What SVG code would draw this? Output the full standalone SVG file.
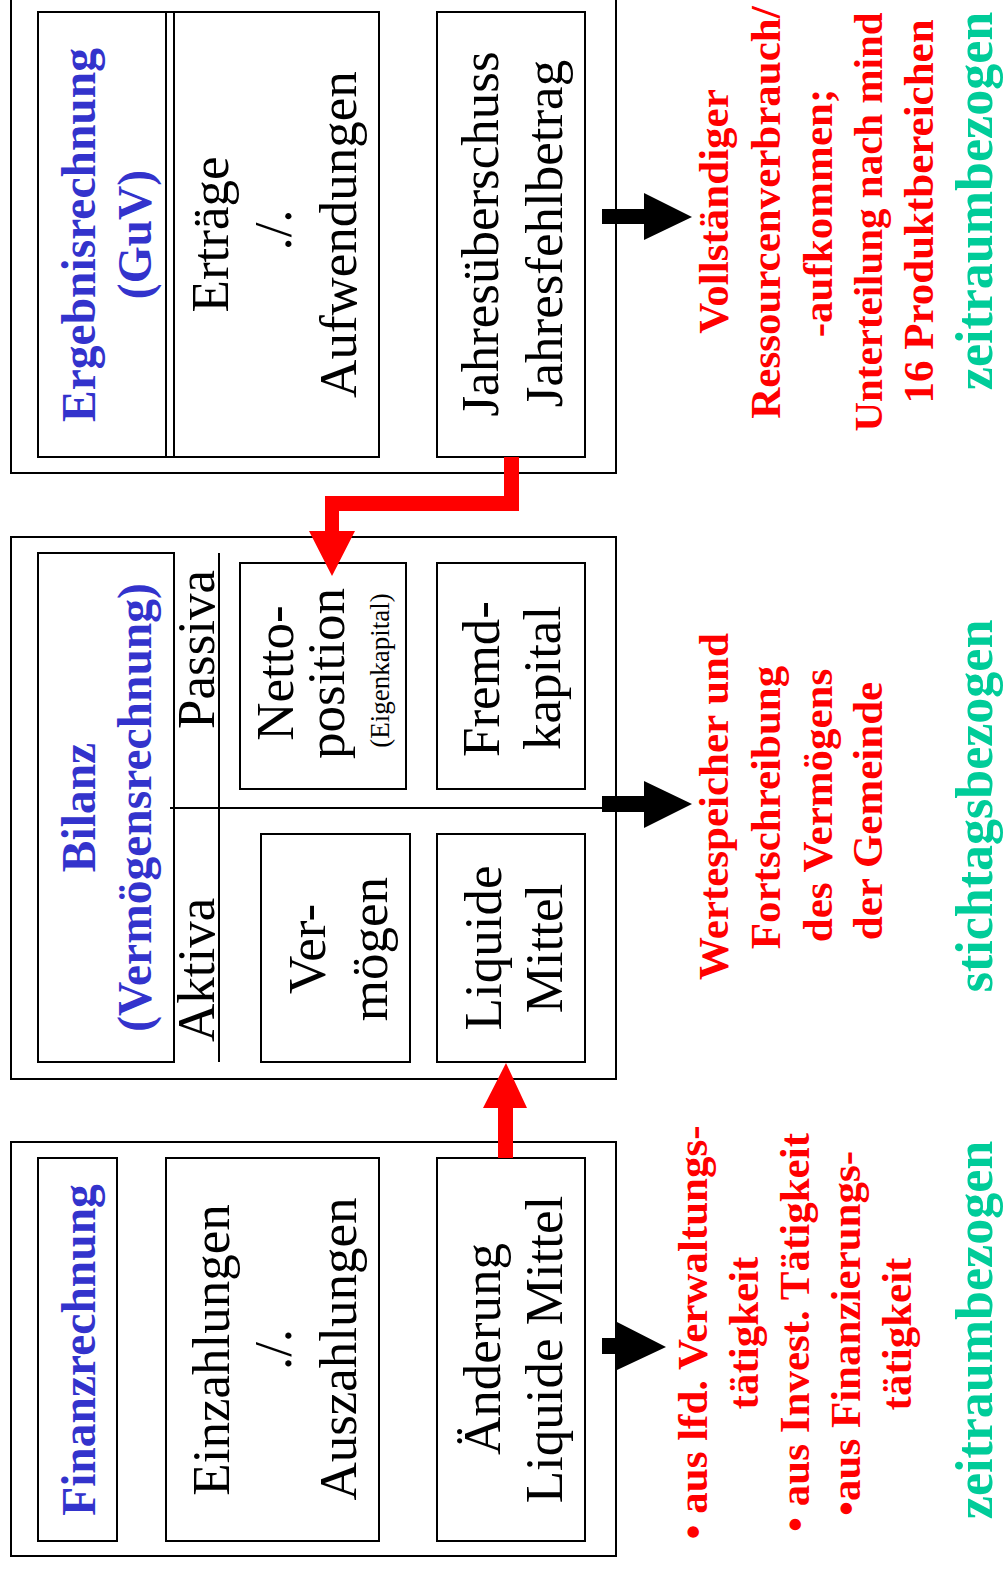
<svg xmlns="http://www.w3.org/2000/svg" width="1004" height="1569" viewBox="0 0 1004 1569">
  <style>
    .frame { fill: none; stroke: #000; stroke-width: 2; }
    .box { fill: none; stroke: #000; stroke-width: 2; }
    .rule { stroke: #000; stroke-width: 2; }
    text { font-family: "Liberation Serif", "Times New Roman", serif; text-anchor: middle; }
    .t { font-size: 53px; fill: #000; }
    .sm { font-size: 27px; fill: #000; }
    .ti { font-size: 47.5px; font-weight: bold; fill: #3333cc; }
    .r { font-size: 43px; font-weight: bold; fill: #ff0000; }
    .g { font-size: 52px; font-weight: bold; fill: #00cc99; }
    .flow { fill: #ff0000; }
    .out { fill: #000; }
  </style>
  <rect width="1004" height="1569" fill="#fff"/>

  <!-- Ergebnisrechnung (income statement) -->
  <g id="ergebnisrechnung">
    <rect class="frame" x="11" y="-5" width="605" height="478"/>
    <rect class="box" x="38" y="12" width="341" height="445"/>
    <line class="rule" x1="166" y1="12" x2="166" y2="457"/>
    <line class="rule" x1="174" y1="12" x2="174" y2="457"/>
    <text class="ti" transform="translate(95 235) rotate(-90)">Ergebnisrechnung</text>
    <text class="ti" transform="translate(151 234.5) rotate(-90)">(GuV)</text>
    <text class="t" transform="translate(228 234.5) rotate(-90)">Erträge</text>
    <text class="t" transform="translate(291 230) rotate(-90)">./.</text>
    <text class="t" transform="translate(356 234.5) rotate(-90)">Aufwendungen</text>
  </g>
  <g id="jahresergebnis">
    <rect class="box" x="437" y="12" width="148" height="445"/>
    <text class="t" transform="translate(498 234) rotate(-90)">Jahresüberschuss</text>
    <text class="t" transform="translate(562 233.5) rotate(-90)">Jahresfehlbetrag</text>
  </g>

  <!-- Bilanz (balance sheet) -->
  <g id="bilanz">
    <rect class="frame" x="11" y="537" width="605" height="542"/>
    <rect class="box" x="38" y="553" width="136" height="509"/>
    <line class="rule" x1="219" y1="553" x2="219" y2="1062"/>
    <line class="rule" x1="170" y1="808" x2="616" y2="808"/>
    <text class="ti" transform="translate(95 807.5) rotate(-90)">Bilanz</text>
    <text class="ti" transform="translate(151 807.5) rotate(-90)">(Vermögensrechnung)</text>
    <text class="t" style="text-anchor:start" transform="translate(214 1042) rotate(-90)">Aktiva</text>
    <text class="t" style="text-anchor:start" transform="translate(214 729) rotate(-90)">Passiva</text>
  </g>
  <g id="nettoposition">
    <rect class="box" x="240" y="563" width="166" height="226"/>
    <text class="t" transform="translate(293 673) rotate(-90)">Netto-</text>
    <text class="t" transform="translate(344 673.5) rotate(-90)">position</text>
    <text class="sm" transform="translate(389 670.5) rotate(-90)">(Eigenkapital)</text>
  </g>
  <g id="fremdkapital">
    <rect class="box" x="437" y="563" width="148" height="226"/>
    <text class="t" transform="translate(499 679) rotate(-90)">Fremd-</text>
    <text class="t" transform="translate(560 678) rotate(-90)">kapital</text>
  </g>
  <g id="vermoegen">
    <rect class="box" x="261" y="834" width="149" height="228"/>
    <text class="t" transform="translate(325 949) rotate(-90)">Ver-</text>
    <text class="t" transform="translate(387 949) rotate(-90)">mögen</text>
  </g>
  <g id="liquide-mittel">
    <rect class="box" x="437" y="834" width="148" height="228"/>
    <text class="t" transform="translate(501 948) rotate(-90)">Liquide</text>
    <text class="t" transform="translate(562 948.5) rotate(-90)">Mittel</text>
  </g>

  <!-- Finanzrechnung (cash flow statement) -->
  <g id="finanzrechnung">
    <rect class="frame" x="11" y="1142" width="605" height="414"/>
    <rect class="box" x="38" y="1158" width="79" height="383"/>
    <text class="ti" transform="translate(95 1350) rotate(-90)">Finanzrechnung</text>
  </g>
  <g id="zahlungen">
    <rect class="box" x="166" y="1158" width="213" height="383"/>
    <text class="t" transform="translate(229 1350) rotate(-90)">Einzahlungen</text>
    <text class="t" transform="translate(291 1349.5) rotate(-90)">./.</text>
    <text class="t" transform="translate(356 1349) rotate(-90)">Auszahlungen</text>
  </g>
  <g id="aenderung">
    <rect class="box" x="437" y="1158" width="148" height="383"/>
    <text class="t" transform="translate(500 1349) rotate(-90)">Änderung</text>
    <text class="t" transform="translate(562 1349.5) rotate(-90)">Liquide Mittel</text>
  </g>

  <!-- Annotations to the right -->
  <g id="note-ergebnis">
    <text class="r" transform="translate(728 211.5) rotate(-90)">Vollständiger</text>
    <text class="r" transform="translate(780 212.5) rotate(-90)">Ressourcenverbrauch/</text>
    <text class="r" transform="translate(832 213) rotate(-90)">-aufkommen;</text>
    <text class="r" style="font-size:41px" transform="translate(882 222) rotate(-90)">Unterteilung nach mind</text>
    <text class="r" transform="translate(933 211.5) rotate(-90)">16 Produktbereichen</text>
    <text class="g" transform="translate(992 201) rotate(-90)">zeitraumbezogen</text>
  </g>
  <g id="note-bilanz">
    <text class="r" transform="translate(728 806.5) rotate(-90)">Wertespeicher und</text>
    <text class="r" transform="translate(780 807.5) rotate(-90)">Fortschreibung</text>
    <text class="r" transform="translate(832 805.5) rotate(-90)">des Vermögens</text>
    <text class="r" transform="translate(882 811) rotate(-90)">der Gemeinde</text>
    <text class="g" transform="translate(992 806) rotate(-90)">stichtagsbezogen</text>
  </g>
  <g id="note-finanz">
    <text class="r" transform="translate(707 1332.5) rotate(-90)">• aus lfd. Verwaltungs-</text>
    <text class="r" transform="translate(758 1333) rotate(-90)">tätigkeit</text>
    <text class="r" transform="translate(809 1332.5) rotate(-90)">• aus Invest. Tätigkeit</text>
    <text class="r" transform="translate(860 1333.5) rotate(-90)">•aus Finanzierungs-</text>
    <text class="r" transform="translate(911 1334) rotate(-90)">tätigkeit</text>
    <text class="g" transform="translate(992 1330) rotate(-90)">zeitraumbezogen</text>
  </g>

  <!-- Connectors -->
  <g id="connectors">
    <polygon class="flow" points="504,457 519,457 519,511 339,511 339,531 355,531 332,576 309,531 325,531 325,496 504,496"/>
    <polygon class="flow" points="498,1158 513,1158 513,1108 527,1108 506,1063 483,1108 498,1108"/>
    <polygon class="out" points="602,209 644,209 644,193 692,217 644,240 644,224 602,224"/>
    <polygon class="out" points="602,796 644,796 644,781 692,804 644,828 644,812 602,812"/>
    <polygon class="out" points="602,1338 617,1338 617,1322 666,1347 617,1370 617,1354 602,1354"/>
  </g>
</svg>
